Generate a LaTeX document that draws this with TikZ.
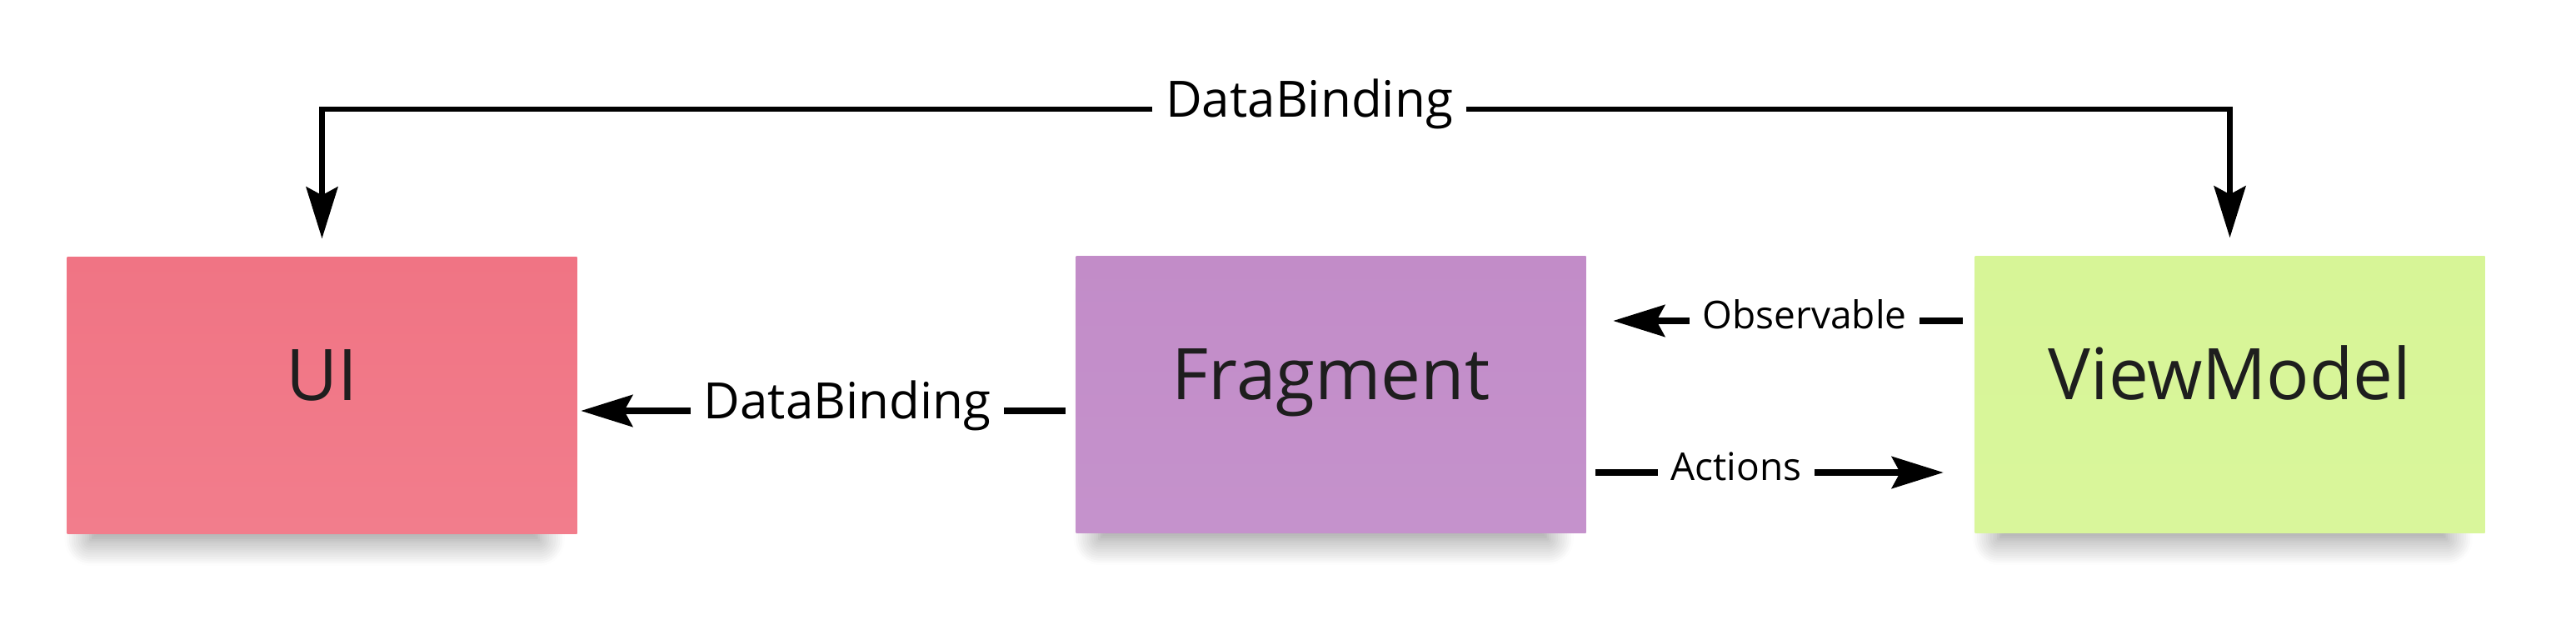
\documentclass[tikz,border=0pt]{standalone}
\usepackage{fontspec}
\setmainfont{Open Sans}
\usetikzlibrary{arrows.meta,shadows.blur,calc}
\definecolor{rose}{HTML}{F07484}
\definecolor{roseclair}{HTML}{F27D8C}
\definecolor{violet}{HTML}{C28CC8}
\definecolor{violetclair}{HTML}{C592CC}
\definecolor{vert}{HTML}{D7F597}
\definecolor{vertclair}{HTML}{D9F69B}
\definecolor{encre}{HTML}{1E1E1E}
\tikzset{note/.style = {minimum width=6.12cm, minimum height=3.32cm, inner sep=0pt,
                        text=encre, font=\fontsize{24.3}{28}\selectfont,
                        text height=0.714em, text depth=0.35em, shading angle=45,
                        blur shadow={shadow xshift=-0.1cm, shadow yshift=-0.32cm,
                                     shadow scale=0.88, shadow blur radius=0.35cm,
                                     shadow blur steps=12, shadow opacity=45}},
         lbl/.style = {fill=white, inner xsep=0.15cm, inner ysep=0pt,
                       text height=0.76em, text depth=0.24em},
         grand/.style = {lbl, font=\fontsize{17.1}{20}\selectfont},
         petit/.style = {lbl, font=\fontsize{13.1}{16}\selectfont},
         lien/.style = {line width=2.2pt},
         fleche/.style = {lien, -{Stealth[length=0.62cm, width=0.38cm, inset=0.1cm]}},
         haut/.style = {fleche, line width=1.8pt}
        }
\begin{document}
\begin{tikzpicture}
\useasboundingbox (0,0) rectangle (30.92,7.67);
\node[note, top color=rose, bottom color=roseclair] at (3.865,2.93) (ui) {UI};
\node[note, top color=violet, bottom color=violetclair] at (15.975,2.94) (frag) {Fragment};
\node[note, top color=vert, bottom color=vertclair] at (26.765,2.94) (vm) {ViewModel};
\node[grand] at (15.715,6.36) (dbhaut) {DataBinding};
\node[grand] at (10.17,2.74) (dbmil) {DataBinding};
\node[petit] at (21.66,3.82) (obs) {Observable};
\node[petit] at (20.84,2.00) (act) {Actions};
\coordinate (cui) at ($(ui.north)+(0,0.21)$);
\coordinate (cvm) at ($(vm.north)+(0,0.21)$);
\draw[haut] (dbhaut.west) -| (cui);
\draw[haut] (dbhaut.east) -| (cvm);
\draw[lien, shorten <=0.12cm] (frag.west |- dbmil) -- (dbmil.east);
\draw[fleche, shorten >=0.04cm] (dbmil.west) -- (ui.east |- dbmil);
\draw[lien, shorten <=0.14cm] (vm.west |- obs) -- (obs.east);
\draw[fleche, shorten >=0.32cm] (obs.west) -- (frag.east |- obs);
\draw[lien, shorten <=0.11cm] (frag.east |- act) -- (act.west);
\draw[fleche, shorten >=0.37cm] (act.east) -- (vm.west |- act);
\end{tikzpicture}
\end{document}
